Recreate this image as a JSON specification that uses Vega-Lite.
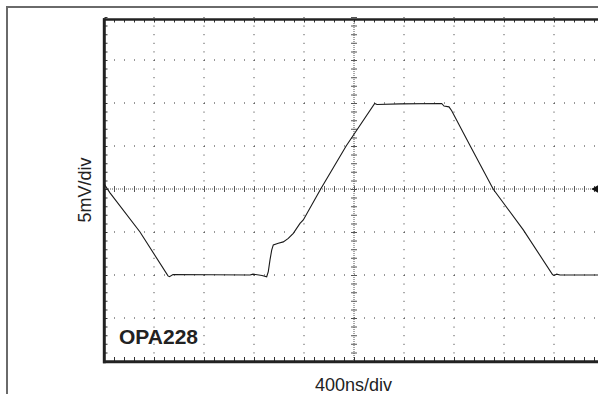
{
  "$schema": "https://vega.github.io/schema/vega-lite/v6.json",
  "width": 591,
  "height": 387,
  "autosize": {"type": "none"},
  "padding": {"left": 7, "top": 7, "right": 0, "bottom": 0},
  "background": "white",
  "data": {"values": [{}]},
  "config": {
    "view": {"stroke": null},
    "axis": {"domain": false, "ticks": false, "labels": false, "grid": false, "titleFont": "Liberation Sans", "titleFontWeight": "normal", "titleFontSize": 18, "titleColor": "#222222"}
  },
  "layer": [
    {
      "data": {"values": [{"x1": -1.96, "x2": 10.5, "y1": 4.2326, "y2": 4.2326}, {"x1": -1.94, "x2": -1.94, "y1": 4.25, "y2": -5}]},
      "mark": {"type": "rule", "color": "#6a6a6a", "strokeWidth": 2, "clip": false},
      "encoding": {
        "x": {"field": "x1", "type": "quantitative", "scale": {"domain": [-1.94, 9.88], "nice": false, "zero": false}, "axis": {"title": "400ns/div", "titleX": 346, "titleY": -3.3, "titleAlign": "center", "titleBaseline": "alphabetic"}},
        "x2": {"field": "x2"},
        "y": {"field": "y1", "type": "quantitative", "scale": {"domain": [-4.7674, 4.2326], "nice": false, "zero": false}, "axis": {"title": "5mV/div", "titleAngle": -90, "titleX": 83, "titleY": 182.5, "titleAlign": "center", "titleBaseline": "alphabetic"}},
        "y2": {"field": "y2"}
      }
    },
    {
      "data": {"values": [{"y": -3}, {"y": -2}, {"y": -1}, {"y": 1}, {"y": 2}, {"y": 3}]},
      "mark": {"type": "rule", "color": "#333333", "strokeWidth": 1, "strokeDash": [1, 9]},
      "encoding": {
        "x": {"datum": 0},
        "x2": {"datum": 9.88},
        "y": {"field": "y", "type": "quantitative"}
      }
    },
    {
      "data": {"values": [{"x": 1}, {"x": 2}, {"x": 3}, {"x": 4}, {"x": 6}, {"x": 7}, {"x": 8}, {"x": 9}]},
      "mark": {"type": "rule", "color": "#333333", "strokeWidth": 1, "strokeDash": [1, 7.6]},
      "encoding": {
        "x": {"field": "x", "type": "quantitative"},
        "y": {"datum": 4},
        "y2": {"datum": -4}
      }
    },
    {
      "mark": {"type": "rule", "color": "#555555", "strokeWidth": 1, "strokeDash": [1, 1]},
      "encoding": {"x": {"datum": 0}, "x2": {"datum": 9.88}, "y": {"datum": 0}}
    },
    {
      "mark": {"type": "rule", "color": "#555555", "strokeWidth": 1, "strokeDash": [1, 1]},
      "encoding": {"x": {"datum": 5}, "y": {"datum": 4}, "y2": {"datum": -4}}
    },
    {
      "mark": {"type": "rule", "color": "#555555", "strokeWidth": 6, "strokeDash": [1, 9]},
      "encoding": {"x": {"datum": 0}, "x2": {"datum": 9.88}, "y": {"datum": 0}}
    },
    {
      "mark": {"type": "rule", "color": "#555555", "strokeWidth": 6, "strokeDash": [1, 7.6]},
      "encoding": {"x": {"datum": 5}, "y": {"datum": 4}, "y2": {"datum": -4}}
    },
    {
      "mark": {"type": "rule", "color": "#333333", "strokeWidth": 4, "strokeDash": [1, 9]},
      "encoding": {"x": {"datum": 0}, "x2": {"datum": 9.88}, "y": {"datum": -3.953}}
    },
    {
      "mark": {"type": "rule", "color": "#333333", "strokeWidth": 3, "strokeDash": [1, 9]},
      "encoding": {"x": {"datum": 0}, "x2": {"datum": 9.88}, "y": {"datum": 3.907}}
    },
    {
      "mark": {"type": "rule", "color": "#333333", "strokeWidth": 3, "strokeDash": [1, 7.6]},
      "encoding": {"x": {"datum": 0.04}, "y": {"datum": 4}, "y2": {"datum": -4}}
    },
    {
      "mark": {"type": "rule", "color": "#222222", "strokeWidth": 3},
      "encoding": {"x": {"datum": 0.006}, "y": {"datum": 3.97}, "y2": {"datum": -4.05}}
    },
    {
      "mark": {"type": "rule", "color": "#222222", "strokeWidth": 2.5},
      "encoding": {"x": {"datum": -0.02}, "x2": {"datum": 10.5}, "y": {"datum": 3.942}}
    },
    {
      "mark": {"type": "rule", "color": "#222222", "strokeWidth": 3},
      "encoding": {"x": {"datum": -0.02}, "x2": {"datum": 10.5}, "y": {"datum": -4.016}}
    },
    {
      "data": {"values": [
        {"t": 0.0, "v": 0.12},
        {"t": 0.12, "v": -0.09},
        {"t": 0.72, "v": -1.0},
        {"t": 1.28, "v": -2.02},
        {"t": 1.31, "v": -2.04},
        {"t": 1.38, "v": -1.99},
        {"t": 2.92, "v": -2.0},
        {"t": 2.98, "v": -1.98},
        {"t": 3.16, "v": -2.01},
        {"t": 3.254, "v": -2.04},
        {"t": 3.286, "v": -1.92},
        {"t": 3.32, "v": -1.65},
        {"t": 3.354, "v": -1.42},
        {"t": 3.386, "v": -1.3},
        {"t": 3.486, "v": -1.26},
        {"t": 3.586, "v": -1.23},
        {"t": 3.686, "v": -1.15},
        {"t": 3.786, "v": -1.03},
        {"t": 3.92, "v": -0.8},
        {"t": 3.986, "v": -0.72},
        {"t": 4.334, "v": 0.0},
        {"t": 4.846, "v": 1.007},
        {"t": 5.414, "v": 1.99},
        {"t": 5.46, "v": 1.965},
        {"t": 5.92, "v": 1.98},
        {"t": 6.754, "v": 1.99},
        {"t": 6.8, "v": 1.93},
        {"t": 6.9, "v": 1.91},
        {"t": 6.954, "v": 1.82},
        {"t": 7.32, "v": 1.01},
        {"t": 7.786, "v": -0.007},
        {"t": 8.386, "v": -0.95},
        {"t": 8.97, "v": -1.99},
        {"t": 9.0, "v": -2.01},
        {"t": 9.054, "v": -1.98},
        {"t": 9.12, "v": -2.0},
        {"t": 9.88, "v": -2.0}
      ]},
      "mark": {"type": "line", "color": "#1a1a1a", "strokeWidth": 1.1},
      "encoding": {
        "x": {"field": "t", "type": "quantitative"},
        "y": {"field": "v", "type": "quantitative"}
      }
    },
    {
      "data": {"values": [{"t": 9.82, "v": 0}]},
      "mark": {"type": "point", "shape": "triangle-left", "filled": true, "color": "#111111", "size": 70, "opacity": 1},
      "encoding": {
        "x": {"field": "t", "type": "quantitative"},
        "y": {"field": "v", "type": "quantitative"}
      }
    },
    {
      "data": {"values": [{"t": 0.3, "v": -3.6, "label": "OPA228"}]},
      "mark": {"type": "text", "align": "left", "baseline": "alphabetic", "font": "Liberation Sans", "fontWeight": "bold", "fontSize": 21, "color": "#222222"},
      "encoding": {
        "x": {"field": "t", "type": "quantitative"},
        "y": {"field": "v", "type": "quantitative"},
        "text": {"field": "label"}
      }
    }
  ]
}
